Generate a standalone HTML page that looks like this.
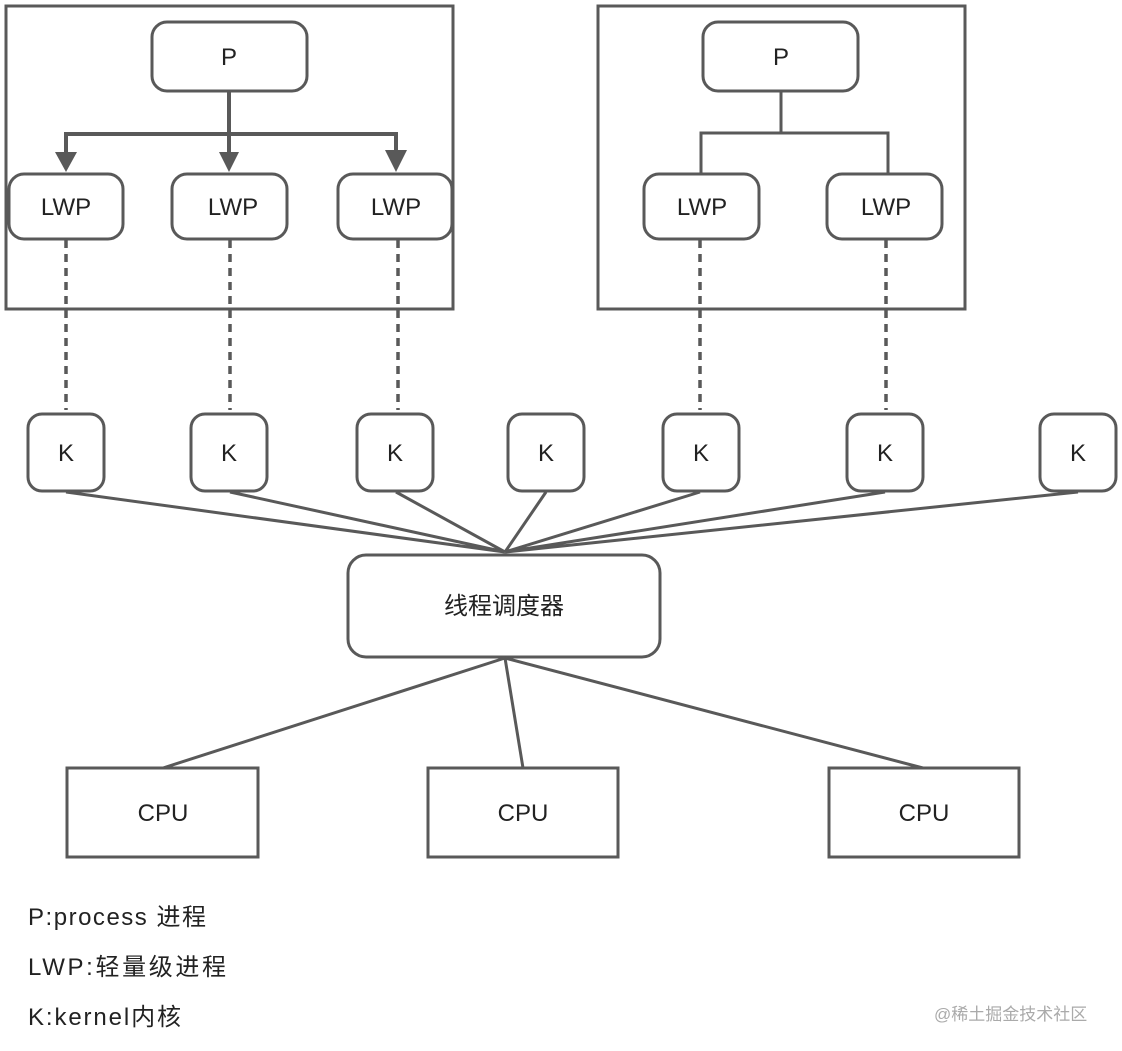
<!DOCTYPE html>
<html><head><meta charset="utf-8"><style>
html,body{margin:0;padding:0;background:#fff;}
svg{display:block;}
text{font-family:"Liberation Sans","Noto Sans CJK SC",sans-serif;fill:#222;}
</style></head><body>
<svg width="1122" height="1051" viewBox="0 0 1122 1051" xmlns="http://www.w3.org/2000/svg">
<g fill="none" stroke="#595959" stroke-width="3">
<rect x="6" y="6" width="447" height="303"/>
<rect x="598" y="6" width="367" height="303"/>
<rect x="152" y="22" width="155" height="69" rx="15"/>
<rect x="703" y="22" width="155" height="69" rx="15"/>
<rect x="9" y="174" width="114" height="65" rx="15"/>
<rect x="172" y="174" width="115" height="65" rx="15"/>
<rect x="338" y="174" width="114" height="65" rx="15"/>
<rect x="644" y="174" width="115" height="65" rx="15"/>
<rect x="827" y="174" width="115" height="65" rx="15"/>
<path d="M229 92V160M66 158V134H396V158" stroke-width="4"/>
<path d="M781 92V133M701 174V133H888V174"/>
<g stroke-dasharray="8,6" stroke-width="3.5">
<path d="M66 240V410M230 240V410M398 240V410M700 240V410M886 240V410"/>
</g>
<rect x="28" y="414" width="76" height="77" rx="14"/>
<rect x="191" y="414" width="76" height="77" rx="14"/>
<rect x="357" y="414" width="76" height="77" rx="14"/>
<rect x="508" y="414" width="76" height="77" rx="14"/>
<rect x="663" y="414" width="76" height="77" rx="14"/>
<rect x="847" y="414" width="76" height="77" rx="14"/>
<rect x="1040" y="414" width="76" height="77" rx="14"/>
<path d="M66 492L505 552M230 492L505 552M396 492L505 552M546 492L505 552M700 492L505 552M885 492L505 552M1078 492L505 552"/>
<rect x="348" y="555" width="312" height="102" rx="18"/>
<path d="M505 658L163 768M505 658L523 768M505 658L923 768"/>
<rect x="67" y="768" width="191" height="89"/>
<rect x="428" y="768" width="190" height="89"/>
<rect x="829" y="768" width="190" height="89"/>
</g>
<g fill="#595959">
<path d="M55 152L77 152L66 172Z"/>
<path d="M219 152L239 152L229 172Z"/>
<path d="M385 150L407 150L396 172Z"/>
</g>
<g font-size="24" text-anchor="middle">
<text x="229" y="65">P</text>
<text x="781" y="65">P</text>
<text x="66" y="215">LWP</text>
<text x="233" y="215">LWP</text>
<text x="396" y="215">LWP</text>
<text x="702" y="215">LWP</text>
<text x="886" y="215">LWP</text>
<text x="66" y="461">K</text>
<text x="229" y="461">K</text>
<text x="395" y="461">K</text>
<text x="546" y="461">K</text>
<text x="701" y="461">K</text>
<text x="885" y="461">K</text>
<text x="1078" y="461">K</text>
<text x="504" y="614">线程调度器</text>
<text x="163" y="821">CPU</text>
<text x="523" y="821">CPU</text>
<text x="924" y="821">CPU</text>
</g>
<g font-size="24">
<text x="28" y="925" textLength="178">P:process 进程</text>
<text x="28" y="975" textLength="198">LWP:轻量级进程</text>
<text x="28" y="1025" textLength="153">K:kernel内核</text>
</g>
<text x="934" y="1020" font-size="17" style="fill:#aaa">@稀土掘金技术社区</text>
</svg>
</body></html>
